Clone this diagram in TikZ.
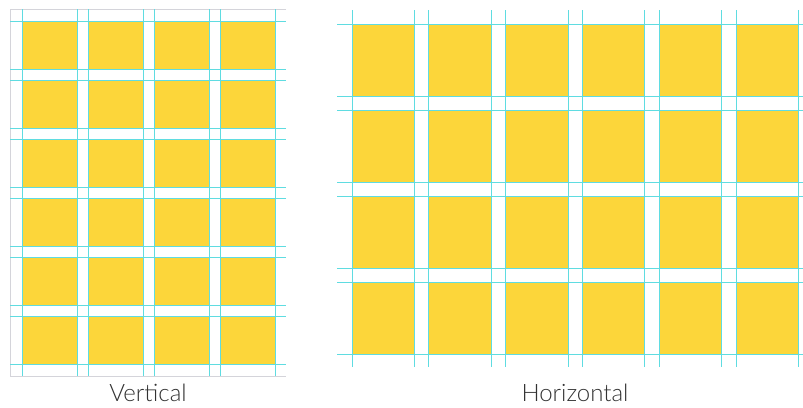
\documentclass[tikz,border=0pt]{standalone}
\usepackage{fontspec}
\setmainfont{Lato}[UprightFont=* Light]
\definecolor{cellyellow}{RGB}{252,214,58}
\definecolor{guide}{RGB}{95,220,225}
\definecolor{framegray}{RGB}{212,212,218}
\definecolor{labelgray}{RGB}{50,50,50}
\tikzset{
  cell/.style={fill=cellyellow, draw=none},
  guideline/.style={draw=guide, line width=1pt},
  frameline/.style={draw=framegray, line width=0.8pt},
  caption/.style={anchor=base, text=labelgray, font=\fontsize{24}{28}\selectfont, inner sep=0pt}
}
\begin{document}
\begin{tikzpicture}[x=1pt,y=-1pt]
\useasboundingbox (0,0) rectangle (803,407);
\fill[white] (0,0) rectangle (803,407);
% ---------- Vertical panel ----------
\draw[frameline] (286,9) -- (10,9) -- (10,376) -- (286,376);
\foreach \c in {0,...,3}{
  \foreach \r in {0,...,5}{
    \fill[cell] ({22+66*\c},{21+59*\r}) rectangle ++(55.5,48);
  }
}
\foreach \c in {0,...,3}{
  \draw[guideline] ({22+66*\c},9) -- ({22+66*\c},376);
  \draw[guideline] ({77.5+66*\c},9) -- ({77.5+66*\c},376);
}
\foreach \r in {0,...,5}{
  \draw[guideline] (10,{21+59*\r}) -- (286,{21+59*\r});
  \draw[guideline] (10,{69+59*\r}) -- (286,{69+59*\r});
}
\node[caption] (vlabel) at (148,401) {Vertical};
% ---------- Horizontal panel ----------
\foreach \c in {0,...,5}{
  \foreach \r in {0,...,3}{
    \fill[cell] ({352+76.8*\c},{24+86*\r}) rectangle ++(62.5,72.5);
  }
}
\foreach \c in {0,...,5}{
  \draw[guideline] ({352+76.8*\c},10) -- ({352+76.8*\c},367);
  \draw[guideline] ({414.5+76.8*\c},10) -- ({414.5+76.8*\c},367);
}
\foreach \r in {0,...,3}{
  \draw[guideline] (337,{24+86*\r}) -- (803,{24+86*\r});
  \draw[guideline] (337,{96.5+86*\r}) -- (803,{96.5+86*\r});
}
\node[caption] (hlabel) at (575,401) {Horizontal};
\end{tikzpicture}
\end{document}
